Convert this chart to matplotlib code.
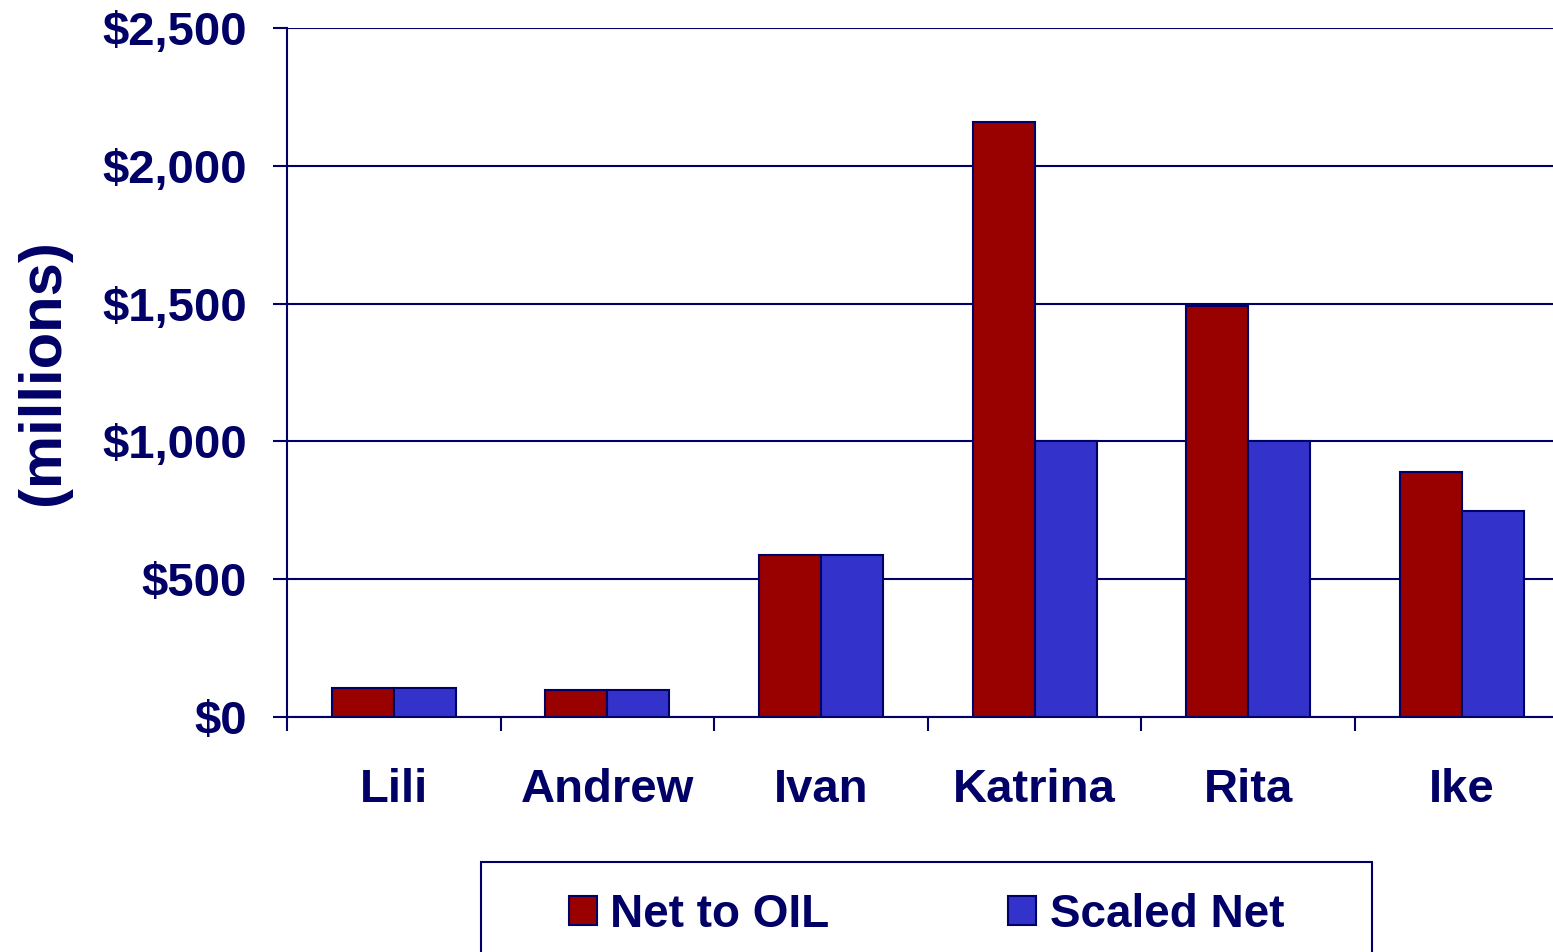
import matplotlib
matplotlib.use("Agg")
import matplotlib.pyplot as plt
import numpy as np
from matplotlib.patches import Rectangle

categories = ["Lili", "Andrew", "Ivan", "Katrina", "Rita", "Ike"]
net_to_oil = [107, 98, 588, 2160, 1490, 890]
scaled_net = [107, 98, 588, 1000, 1000, 747]
yticks = [0, 500, 1000, 1500, 2000, 2500]
ytick_labels = ["$0", "$500", "$1,000", "$1,500", "$2,000", "$2,500"]

NAVY = "#000066"
RED = "#990000"
BLUE = "#3333CC"

plt.rcParams["font.family"] = ["Liberation Sans", "DejaVu Sans"]
plt.rcParams["font.weight"] = "bold"

W, H = 1553, 952
fig = plt.figure(figsize=(W / 100, H / 100), dpi=100)
catw = 213.6
left = 287 / W
bottom = 1 - 717 / H
top = 1 - 28 / H
width = 6 * catw / W
ax = fig.add_axes([left, bottom, width, top - bottom])

x = np.arange(len(categories))
bw = 62 / catw
ax.bar(x - bw / 2, net_to_oil, bw, color=RED, edgecolor=NAVY, linewidth=1.5, label="Net to OIL", zorder=3)
ax.bar(x + bw / 2, scaled_net, bw, color=BLUE, edgecolor=NAVY, linewidth=1.5, label="Scaled Net", zorder=3)

ax.set_xlim(-0.5, len(categories) - 0.5)
ax.set_ylim(0, 2500)
ax.set_yticks(yticks)
ax.set_yticklabels(ytick_labels)
ax.set_xticks(x)
ax.set_xticklabels(categories)
ax.set_xticks(np.arange(len(categories)) - 0.5, minor=True)

ax.tick_params(axis="x", which="major", length=0, pad=37, labelsize=34, labelcolor=NAVY)
ax.tick_params(axis="x", which="minor", length=10, width=1.5, color=NAVY, direction="out")
ax.tick_params(axis="y", length=10, width=1.5, color=NAVY, pad=19, labelsize=34, labelcolor=NAVY)

ax.yaxis.grid(True, color=NAVY, linewidth=1.5)
ax.set_axisbelow(True)
for s in ["top", "right"]:
    ax.spines[s].set_visible(False)
for s in ["left", "bottom"]:
    ax.spines[s].set_color(NAVY)
    ax.spines[s].set_linewidth(1.5)

fig.text(43 / W, 1 - 372 / H, "(millions)", rotation=90, ha="center", va="center",
         fontsize=43, fontweight="bold", color=NAVY)

# legend frame
fig.patches.append(Rectangle((481 / W, -0.1), (1372 - 481) / W, 0.1 + (952 - 862) / H,
                             transform=fig.transFigure, fill=False, edgecolor=NAVY,
                             linewidth=1.5, zorder=1))
leg = fig.legend(loc="center left", bbox_to_anchor=(569 / W, 1 - 915 / H), ncol=2,
                 frameon=False, fontsize=33, handlelength=0.6, handleheight=0.6,
                 handletextpad=0.3, columnspacing=3.9, borderpad=0, borderaxespad=0)
for t in leg.get_texts():
    t.set_color(NAVY)

fig.savefig("out.png", dpi=100)
